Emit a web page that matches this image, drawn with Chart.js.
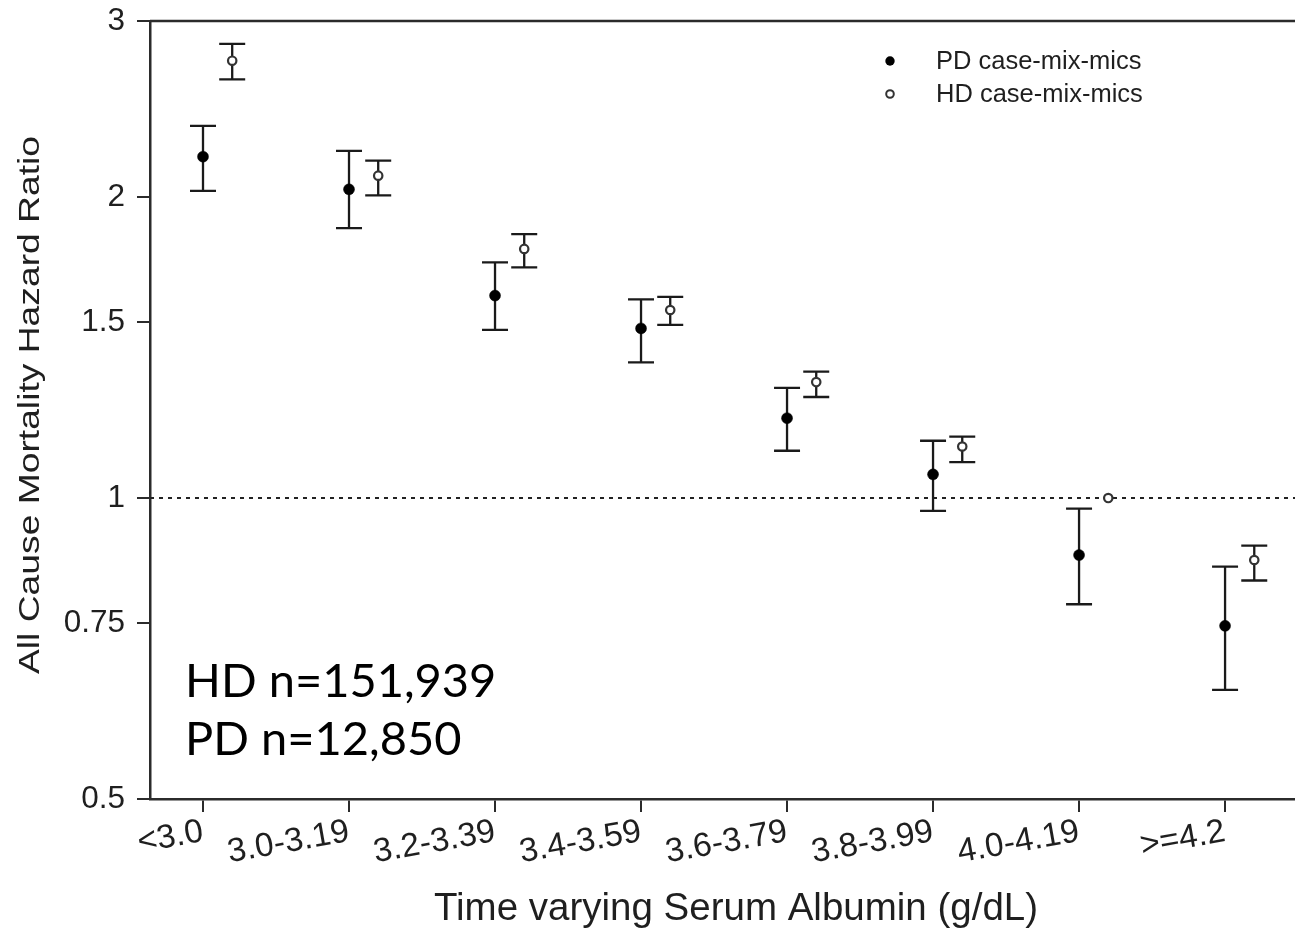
<!DOCTYPE html>
<html>
<head>
<meta charset="utf-8">
<title>All Cause Mortality Hazard Ratio by Serum Albumin</title>
<script src="https://cdn.jsdelivr.net/npm/chart.js@4/dist/chart.umd.min.js"></script>
<style>
  html, body { margin: 0; padding: 0; background: #ffffff; }
  #wrap { width: 1295px; height: 928px; }
</style>
</head>
<body>
<div id="wrap"><canvas id="c" width="1295" height="928"></canvas></div>
<script>
// Serum albumin categories (g/dL)
const categories = ['<3.0', '3.0-3.19', '3.2-3.39', '3.4-3.59', '3.6-3.79', '3.8-3.99', '4.0-4.19', '>=4.2'];

// PD case-mix-mics: hazard ratio with 95% CI
const pdHR = [2.195, 2.036, 1.594, 1.478, 1.202, 1.056, 0.877, 0.745];
const pdLo = [2.029, 1.862, 1.473, 1.367, 1.115, 0.971, 0.783, 0.643];
const pdHi = [2.356, 2.224, 1.721, 1.580, 1.289, 1.141, 0.976, 0.854];

// HD case-mix-mics: hazard ratio with 95% CI (4.0-4.19 is the reference group)
const hdHR = [2.738, 2.101, 1.775, 1.542, 1.306, 1.126, 1.000, 0.867];
const hdLo = [2.623, 2.008, 1.701, 1.490, 1.262, 1.086, null, 0.827];
const hdHi = [2.846, 2.175, 1.836, 1.589, 1.338, 1.152, null, 0.896];

// Y axis tick values (log scale)
const yTicks = [0.5, 0.75, 1, 1.5, 2, 3];

const seriesNames = ['PD case-mix-mics', 'HD case-mix-mics'];
const sampleSizes = ['HD n=151,939', 'PD n=12,850'];
const xTitle = 'Time varying Serum Albumin (g/dL)';
const yTitle = 'All Cause Mortality Hazard Ratio';
const referenceHR = 1;

const FONT = "'Liberation Sans', Arial, Helvetica, sans-serif";
const INK = '#1f1f1f';
const AXIS = '#2b2b2b';
const HD_SHIFT = 0.2;

const lows = [pdLo, hdLo];
const highs = [pdHi, hdHi];

// Error bars, reference line and top frame, drawn beneath the markers
const errorBarPlugin = {
  id: 'errorBars',
  beforeDatasetsDraw(chart) {
    const { ctx, chartArea } = chart;
    const ys = chart.scales.y;
    ctx.save();
    // top frame line
    ctx.strokeStyle = AXIS;
    ctx.lineWidth = 2.5;
    ctx.beginPath();
    ctx.moveTo(chartArea.left, chartArea.top);
    ctx.lineTo(chartArea.right, chartArea.top);
    ctx.stroke();
    // dotted reference line at HR = 1
    const yRef = ys.getPixelForValue(referenceHR);
    ctx.setLineDash([4, 5]);
    ctx.lineWidth = 2;
    ctx.strokeStyle = '#222';
    ctx.beginPath();
    ctx.moveTo(chartArea.left, yRef);
    ctx.lineTo(chartArea.right, yRef);
    ctx.stroke();
    ctx.setLineDash([]);
    // confidence intervals
    ctx.strokeStyle = '#1a1a1a';
    ctx.lineWidth = 2.3;
    const cap = 13;
    chart.data.datasets.forEach((ds, d) => {
      const meta = chart.getDatasetMeta(d);
      meta.data.forEach((pt, i) => {
        const lo = lows[d][i], hi = highs[d][i];
        if (lo == null || hi == null) return;
        const x = pt.x;
        const y1 = ys.getPixelForValue(lo);
        const y2 = ys.getPixelForValue(hi);
        ctx.beginPath();
        ctx.moveTo(x, y1); ctx.lineTo(x, y2);
        ctx.moveTo(x - cap, y1); ctx.lineTo(x + cap, y1);
        ctx.moveTo(x - cap, y2); ctx.lineTo(x + cap, y2);
        ctx.stroke();
      });
    });
    ctx.restore();
  }
};

// Legend, sample sizes and axis titles
const decorPlugin = {
  id: 'decor',
  afterDraw(chart) {
    const { ctx } = chart;
    ctx.save();
    // legend
    const rows = [61, 94];
    chart.data.datasets.forEach((ds, d) => {
      const y = rows[d];
      ctx.beginPath();
      if (d === 0) {
        ctx.arc(890, y, 4.7, 0, Math.PI * 2);
        ctx.fillStyle = '#000';
        ctx.fill();
      } else {
        ctx.arc(890, y, 3.8, 0, Math.PI * 2);
        ctx.fillStyle = '#fff';
        ctx.fill();
        ctx.lineWidth = 2;
        ctx.strokeStyle = '#333';
        ctx.stroke();
      }
      ctx.fillStyle = INK;
      ctx.font = '25.5px ' + FONT;
      ctx.textAlign = 'left';
      ctx.textBaseline = 'middle';
      ctx.fillText(ds.label, 936, y + 1);
    });
    // sample sizes
    ctx.fillStyle = '#000';
    ctx.font = "47px Lato, 'Open Sans', sans-serif";
    ctx.textAlign = 'left';
    ctx.textBaseline = 'alphabetic';
    ctx.fillText(sampleSizes[0], 185, 697);
    ctx.fillText(sampleSizes[1], 185, 755);
    // x axis title
    ctx.fillStyle = INK;
    ctx.font = '38.5px ' + FONT;
    ctx.textAlign = 'center';
    ctx.fillText(xTitle, 736, 920);
    // y axis title (condensed)
    ctx.font = '30px ' + FONT;
    const w = ctx.measureText(yTitle).width;
    ctx.translate(39, 405);
    ctx.rotate(-Math.PI / 2);
    ctx.scale(538 / w, 1);
    ctx.textAlign = 'center';
    ctx.textBaseline = 'alphabetic';
    ctx.fillText(yTitle, 0, 0);
    ctx.restore();
  }
};

new Chart(document.getElementById('c'), {
  type: 'scatter',
  data: {
    datasets: [
      {
        label: seriesNames[0],
        data: pdHR.map((v, i) => ({ x: i, y: v })),
        pointRadius: 5.5,
        pointBackgroundColor: '#000',
        pointBorderColor: '#000',
        pointBorderWidth: 0.5,
        showLine: false
      },
      {
        label: seriesNames[1],
        data: hdHR.map((v, i) => ({ x: i + HD_SHIFT, y: v })),
        pointRadius: 4.2,
        pointBackgroundColor: '#fff',
        pointBorderColor: '#333',
        pointBorderWidth: 2.2,
        showLine: false
      }
    ]
  },
  options: {
    responsive: false,
    devicePixelRatio: 1,
    animation: false,
    layout: { autoPadding: false, padding: { top: 21, right: 0, bottom: 0, left: 0 } },
    plugins: {
      legend: { display: false },
      tooltip: { enabled: false }
    },
    scales: {
      x: {
        type: 'linear',
        position: 'bottom',
        min: -0.363,
        max: 7.479,
        bounds: 'data',
        afterBuildTicks: (s) => { s.ticks = categories.map((_, i) => ({ value: i })); },
        afterFit: (s) => { s.height = 129; s.paddingLeft = 0; s.paddingRight = 0; },
        grid: {
          display: true,
          drawOnChartArea: false,
          drawTicks: true,
          tickLength: 13,
          tickColor: AXIS,
          tickWidth: 2,
          lineWidth: 2
        },
        border: { display: true, color: AXIS, width: 2.5 },
        ticks: {
          autoSkip: false,
          minRotation: 10,
          maxRotation: 10,
          padding: 0,
          color: INK,
          font: { family: FONT, size: 33.5 },
          callback: (v) => categories[Math.round(v)]
        }
      },
      y: {
        type: 'logarithmic',
        position: 'left',
        min: 0.5,
        max: 3,
        bounds: 'data',
        afterBuildTicks: (s) => { s.ticks = yTicks.map(v => ({ value: v })); },
        afterFit: (s) => { s.width = 150; s.paddingTop = 0; s.paddingBottom = 0; },
        grid: {
          display: true,
          drawOnChartArea: false,
          drawTicks: true,
          tickLength: 13,
          tickColor: AXIS,
          tickWidth: 2,
          lineWidth: 2
        },
        border: { display: true, color: AXIS, width: 2.5 },
        ticks: {
          padding: 12,
          color: INK,
          font: { family: FONT, size: 31.5 },
          callback: (v) => String(v)
        }
      }
    }
  },
  plugins: [errorBarPlugin, decorPlugin]
});
</script>
</body>
</html>
